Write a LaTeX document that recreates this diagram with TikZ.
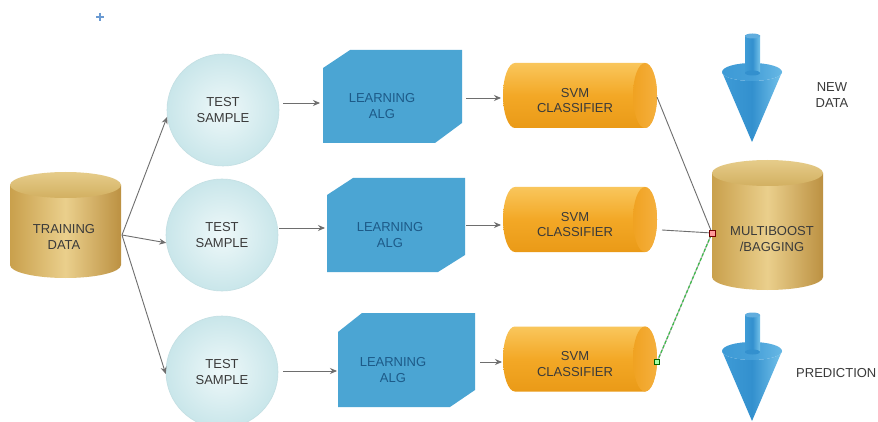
\documentclass[tikz,border=0pt]{standalone}
\usepackage{fontspec}
\setmainfont{Liberation Sans}
\usetikzlibrary{arrows.meta}
\definecolor{txtgray}{HTML}{3A3A3A}
\definecolor{txtblue}{HTML}{1D5A88}
\definecolor{goldL}{HTML}{C9A04C}
\definecolor{goldM}{HTML}{EACF8C}
\definecolor{goldR}{HTML}{BC9142}
\definecolor{goldTT}{HTML}{E6CC8A}
\definecolor{goldTB}{HTML}{D2B061}
\definecolor{tsIn}{HTML}{EEF8F9}
\definecolor{tsOut}{HTML}{C9E6EA}
\definecolor{tsBorder}{HTML}{C3DFE3}
\definecolor{algBlue}{HTML}{4BA5D3}
\definecolor{svmT}{HTML}{F9C65C}
\definecolor{svmM}{HTML}{F3A826}
\definecolor{svmB}{HTML}{EA9A17}
\definecolor{capL}{HTML}{F0A222}
\definecolor{capR}{HTML}{F5B03E}
\definecolor{coneL}{HTML}{3E9BD6}
\definecolor{coneM}{HTML}{3390CE}
\definecolor{coneR}{HTML}{74C2EA}
\definecolor{coneTop}{HTML}{459FD8}
\definecolor{lineGray}{HTML}{6E6E6E}
\definecolor{dashGreen}{HTML}{3DBE4A}
\definecolor{plusBlue}{HTML}{6A9AD2}
\newcommand\drawcone[1]{%
  \begin{scope}[shift={(0,#1)}]
    \shade[left color=coneL, right color=coneR, middle color=coneM]
      (722,72) -- (752,142) -- (782,72)
      arc[start angle=0,end angle=-180,x radius=30pt,y radius=9pt] -- cycle;
    \shade[left color=coneL, right color=coneR!80!coneM, middle color=coneTop] (752,72) ellipse[x radius=30pt,y radius=9pt];
    \shade[left color=coneL, right color=coneR, middle color=coneM]
      (745,36) rectangle (760,73);
    \fill[coneM] (752.5,73) ellipse[x radius=7.5pt,y radius=2.5pt];
    \fill[coneTop!85!white] (752.5,36) ellipse[x radius=7.5pt,y radius=2.5pt];
  \end{scope}}
\begin{document}
\begin{tikzpicture}[x=1pt,y=-1pt,
  lbl/.style={font=\fontsize{13}{15.5}\selectfont, text=txtgray, align=center, inner sep=0pt},
  algtxt/.style={lbl, text=txtblue},
  tsamp/.style={circle, minimum size=112pt, inner color=tsIn, outer color=tsOut, draw=tsBorder, line width=0.6pt, lbl},
  conn/.style={draw=lineGray, line width=0.9pt},
  arr/.style={conn, -{Stealth[length=7pt,width=6pt]}}]
\useasboundingbox (0,0) rectangle (878,422);
\fill[white] (0,0) rectangle (878,422);
\clip (0,0) rectangle (878,422);

% plus mark
\draw[draw=plusBlue, line width=1.2pt] (96,17) -- (104,17) (100,13) -- (100,21);

% training data cylinder
\shade[left color=goldL, right color=goldR, middle color=goldM]
  (10,185) -- (10,265) arc[start angle=180,end angle=360,x radius=55.5pt,y radius=13pt] -- (121,185) -- cycle;
\shade[top color=goldTT, bottom color=goldTB] (65.5,185) ellipse[x radius=55.5pt,y radius=13pt];
\node[lbl] (train) at (64,237) {TRAINING\\DATA};
\coordinate (trainR) at (122,235);

% multiboost cylinder
\shade[left color=goldL, right color=goldR, middle color=goldM]
  (712,173) -- (712,277) arc[start angle=180,end angle=360,x radius=55.5pt,y radius=13pt] -- (823,173) -- cycle;
\shade[top color=goldTT, bottom color=goldTB] (767.5,173) ellipse[x radius=55.5pt,y radius=13pt];
\node[lbl] (multi) at (772,239) {MULTIBOOST\\/BAGGING};
\coordinate (mbIn) at (712,233);

% test samples
\node[tsamp] (ts1) at (223,110) {TEST\\SAMPLE};
\node[tsamp] (ts2) at (222,235) {TEST\\SAMPLE};
\node[tsamp] (ts3) at (222,372) {TEST\\SAMPLE};

% learning alg shapes
\fill[algBlue] (323,68) -- (350,50) -- (462,50) -- (462,123) -- (435,143) -- (323,143) -- cycle;
\node[algtxt] (la1) at (382,106) {LEARNING\\ALG};
\fill[algBlue] (327,195) -- (353,178) -- (465,178) -- (465,255) -- (438,272) -- (327,272) -- cycle;
\node[algtxt] (la2) at (390,235) {LEARNING\\ALG};
\fill[algBlue] (338,332) -- (362,313) -- (475,313) -- (475,390) -- (450,407) -- (338,407) -- cycle;
\node[algtxt] (la3) at (393,370) {LEARNING\\ALG};

% SVM cylinders
\foreach \cy/\nm in {95.5/svm1, 219.5/svm2, 359/svm3}{
  \shade[top color=svmT, bottom color=svmB, middle color=svmM]
    (515,\cy-32.5) -- (645,\cy-32.5)
    arc[start angle=90,end angle=-90,x radius=12pt,y radius=32.5pt]
    -- (515,\cy+32.5)
    arc[start angle=-90,end angle=-270,x radius=12pt,y radius=32.5pt] -- cycle;
  \shade[left color=capL, right color=capR] (645,\cy) ellipse[x radius=12pt,y radius=32.5pt];
  \node[lbl] (\nm) at (575,\cy+5) {SVM\\CLASSIFIER};
}

% cones
\drawcone{0}
\drawcone{279}
\node[lbl] (newdata) at (832,95) {NEW\\DATA};
\node[lbl, anchor=west] (pred) at (796,373) {PREDICTION};

% anchor coordinates
\coordinate (la1in) at (320,103);  \coordinate (ts1out) at (283,103);
\coordinate (la2in) at (325,228);  \coordinate (ts2out) at (279,228);
\coordinate (la3in) at (337,371);  \coordinate (ts3out) at (283,371);
\coordinate (la1out) at (466,98);  \coordinate (svm1in) at (501,98);
\coordinate (la2out) at (466,225); \coordinate (svm2in) at (501,225);
\coordinate (la3out) at (480,362); \coordinate (svm3in) at (502,362);
\coordinate (svm1out) at (657,97);
\coordinate (svm2out) at (662,230);
\coordinate (svm3out) at (657,362);

% connectors
\draw[arr] (trainR) -- (ts1.187);
\draw[arr] (trainR) -- (ts2.188);
\draw[arr] (trainR) -- (ts3.182);
\draw[arr] (ts1out) -- (la1in);
\draw[arr] (ts2out) -- (la2in);
\draw[arr] (ts3out) -- (la3in);
\draw[arr] (la1out) -- (svm1in);
\draw[arr] (la2out) -- (svm2in);
\draw[arr] (la3out) -- (svm3in);
\draw[conn] (svm1out) -- (mbIn);
\draw[conn] (svm2out) -- (mbIn);
\draw[draw=gray!60, line width=1.2pt] (svm3out) -- (mbIn);
\draw[draw=dashGreen, line width=1.2pt, dash pattern=on 3pt off 2pt] (svm3out) -- (mbIn);
\node[draw=green!40!black, fill=green!35, minimum size=5pt, inner sep=0pt, line width=0.5pt] (h1) at (svm3out) {};
\node[draw=red!45!black, fill=red!40, minimum size=6pt, inner sep=0pt, line width=0.5pt] (h2) at (mbIn) {};
\end{tikzpicture}
\end{document}
